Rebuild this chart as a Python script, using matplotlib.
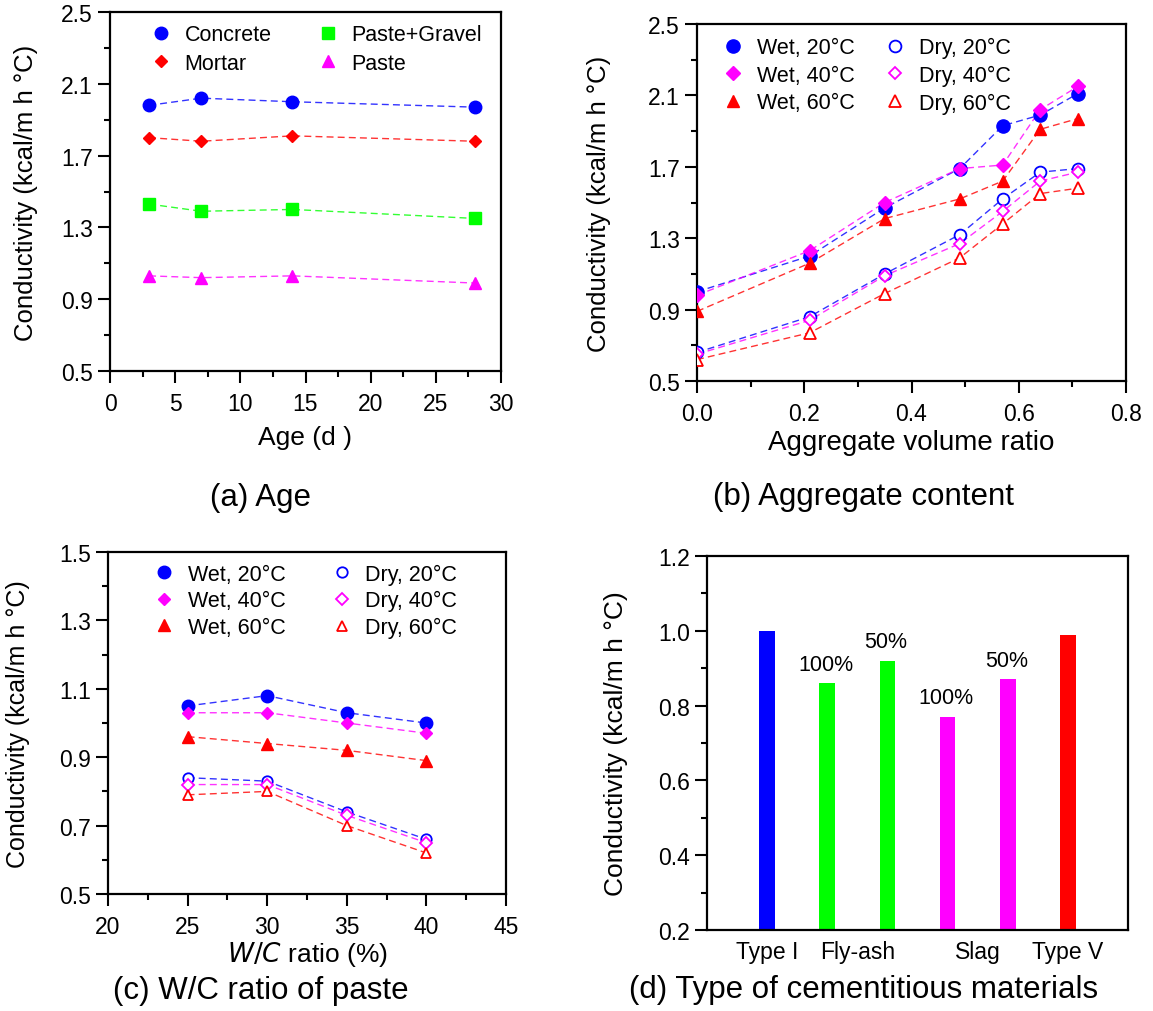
import numpy as np
import matplotlib
matplotlib.use("Agg")
import matplotlib.pyplot as plt
from matplotlib.ticker import FixedLocator, FormatStrFormatter

plt.rcParams['font.family'] = ['Liberation Sans', 'DejaVu Sans']

# ---------------- data ----------------
# (a) Age
age = [3, 7, 14, 28]
concrete = [1.98, 2.02, 2.00, 1.97]
mortar = [1.80, 1.78, 1.81, 1.78]
paste_gravel = [1.43, 1.39, 1.40, 1.35]
paste = [1.03, 1.02, 1.03, 0.99]

# (b) Aggregate content
agg_ratio = [0.0, 0.21, 0.35, 0.49, 0.57, 0.64, 0.71]
wet20_b = [1.00, 1.20, 1.47, 1.69, 1.93, 1.99, 2.11]
wet40_b = [0.98, 1.23, 1.50, 1.69, 1.71, 2.02, 2.15]
wet60_b = [0.89, 1.16, 1.41, 1.52, 1.62, 1.91, 1.97]
dry20_b = [0.66, 0.86, 1.10, 1.32, 1.52, 1.67, 1.69]
dry40_b = [0.65, 0.84, 1.09, 1.27, 1.45, 1.62, 1.67]
dry60_b = [0.62, 0.77, 0.99, 1.19, 1.38, 1.55, 1.58]

# (c) W/C ratio
wc_ratio = [25, 30, 35, 40]
wet20_c = [1.05, 1.08, 1.03, 1.00]
wet40_c = [1.03, 1.03, 1.00, 0.97]
wet60_c = [0.96, 0.94, 0.92, 0.89]
dry20_c = [0.84, 0.83, 0.74, 0.66]
dry40_c = [0.82, 0.82, 0.73, 0.65]
dry60_c = [0.79, 0.80, 0.70, 0.62]

# (d) Type of cementitious materials
materials = ["Type I", "Fly-ash 100%", "Fly-ash 50%", "Slag 100%", "Slag 50%", "Type V"]
values_d = [1.00, 0.86, 0.92, 0.77, 0.87, 0.99]
bar_notes = ["", "100%", "50%", "100%", "50%", ""]
group_labels = ["Type I", "Fly-ash", "Slag", "Type V"]
group_members = [[0], [1, 2], [3, 4], [5]]

# tick values
ticks_a_x = [0, 5, 10, 15, 20, 25, 30]
ticks_a_y = [0.5, 0.9, 1.3, 1.7, 2.1, 2.5]
ticks_b_x = [0.0, 0.2, 0.4, 0.6, 0.8]
ticks_b_y = [0.5, 0.9, 1.3, 1.7, 2.1, 2.5]
ticks_c_x = [20, 25, 30, 35, 40, 45]
ticks_c_y = [0.5, 0.7, 0.9, 1.1, 1.3, 1.5]
ticks_d_y = [0.2, 0.4, 0.6, 0.8, 1.0, 1.2]

BLUE, RED, GREEN, MAG = "#0000ff", "#ff0000", "#00ff00", "#ff00ff"
bar_colors = [BLUE, GREEN, GREEN, MAG, MAG, RED]

W, H = 1153, 1012
fig = plt.figure(figsize=(W / 100, H / 100), dpi=100)


def box(l, t, r, b):
    return [l / W, 1 - b / H, (r - l) / W, (b - t) / H]


TICK_FS = 16.5
LEG_FS = 15.5


def midpoints(t):
    return [(t[i] + t[i + 1]) / 2 for i in range(len(t) - 1)]


def set_ticks(ax, xt=None, yt=None, xfmt=None, yfmt='%.1f'):
    if xt is not None:
        ax.xaxis.set_major_locator(FixedLocator(xt))
        ax.xaxis.set_minor_locator(FixedLocator(midpoints(xt)))
        if xfmt:
            ax.xaxis.set_major_formatter(FormatStrFormatter(xfmt))
    if yt is not None:
        ax.yaxis.set_major_locator(FixedLocator(yt))
        ax.yaxis.set_minor_locator(FixedLocator(midpoints(yt)))
        ax.yaxis.set_major_formatter(FormatStrFormatter(yfmt))


def style_axes(ax):
    for s in ax.spines.values():
        s.set_linewidth(1.6)
    ax.tick_params(which='both', direction='out', top=False, right=False,
                   width=1.5, labelsize=TICK_FS)
    ax.tick_params(which='major', length=8.5, pad=6.5)
    ax.tick_params(axis='y', which='major', pad=4)
    ax.tick_params(which='minor', length=4.2)


def series(ax, x, y, color, marker, ms, label, filled=True, lw_edge=1.3):
    ax.plot(x, y, ls=(0, (5, 3)), lw=1.0, color=color, alpha=0.8, zorder=2)
    if filled:
        ax.plot(x, y, ls='none', marker=marker, ms=ms, color=color,
                markeredgecolor=color, label=label, zorder=3)
    else:
        ax.plot(x, y, ls='none', marker=marker, ms=ms, markerfacecolor='white',
                markeredgecolor=color, markeredgewidth=lw_edge, label=label, zorder=3)


YLABEL = "Conductivity (kcal/m h °C)"

# ---------------- (a) ----------------
axa = fig.add_axes(box(110, 13, 501, 372))
style_axes(axa)
series(axa, age, concrete, BLUE, 'o', 9, "Concrete")
series(axa, age, mortar, RED, 'D', 6.5, "Mortar")
series(axa, age, paste_gravel, GREEN, 's', 8.5, "Paste+Gravel")
series(axa, age, paste, MAG, '^', 8, "Paste")
axa.set_xlim(0, 30)
axa.set_ylim(0.5, 2.5)
set_ticks(axa, ticks_a_x, ticks_a_y)
axa.set_xlabel("Age (d )", fontsize=19, labelpad=7)
axa.set_ylabel(YLABEL, fontsize=18.5)
axa.yaxis.set_label_coords(-0.185, 0.5)
axa.legend(loc='upper left', bbox_to_anchor=(0.053, 1.02), ncol=2, frameon=False,
           fontsize=LEG_FS, handlelength=1.0, handletextpad=0.6,
           columnspacing=2.1, labelspacing=0.36, borderpad=0.4)

# ---------------- (b) ----------------
axb = fig.add_axes(box(697, 25, 1126, 382))
style_axes(axb)
series(axb, agg_ratio, wet20_b, BLUE, 'o', 9.5, "Wet, 20°C")
series(axb, agg_ratio, wet40_b, MAG, 'D', 7, "Wet, 40°C")
series(axb, agg_ratio, wet60_b, RED, '^', 8.5, "Wet, 60°C")
series(axb, agg_ratio, dry20_b, BLUE, 'o', 8.5, "Dry, 20°C", filled=False)
series(axb, agg_ratio, dry40_b, MAG, 'D', 6.5, "Dry, 40°C", filled=False)
series(axb, agg_ratio, dry60_b, RED, '^', 8, "Dry, 60°C", filled=False)
axb.set_xlim(0, 0.8)
axb.set_ylim(0.5, 2.5)
set_ticks(axb, ticks_b_x, ticks_b_y, xfmt='%.1f')
axb.set_xlabel("Aggregate volume ratio", fontsize=20, labelpad=3)
axb.set_ylabel(YLABEL, fontsize=18.5)
axb.yaxis.set_label_coords(-0.2, 0.5)
axb.legend(loc='upper left', bbox_to_anchor=(0.014, 1.017), ncol=2, frameon=False,
           fontsize=LEG_FS, handlelength=1.0, handletextpad=0.6,
           columnspacing=1.4, labelspacing=0.3, borderpad=0.4)

# ---------------- (c) ----------------
axc = fig.add_axes(box(108, 553, 506, 895))
style_axes(axc)
series(axc, wc_ratio, wet20_c, BLUE, 'o', 9, "Wet, 20°C")
series(axc, wc_ratio, wet40_c, MAG, 'D', 6.5, "Wet, 40°C")
series(axc, wc_ratio, wet60_c, RED, '^', 8.5, "Wet, 60°C")
series(axc, wc_ratio, dry20_c, BLUE, 'o', 7.5, "Dry, 20°C", filled=False)
series(axc, wc_ratio, dry40_c, MAG, 'D', 6, "Dry, 40°C", filled=False)
series(axc, wc_ratio, dry60_c, RED, '^', 7.5, "Dry, 60°C", filled=False)
axc.set_xlim(20, 45)
axc.set_ylim(0.5, 1.5)
set_ticks(axc, ticks_c_x, ticks_c_y)
axc.set_xlabel(r"$\mathit{W/C}$ ratio (%)", fontsize=19, labelpad=1)
axc.set_ylabel(YLABEL, fontsize=18)
axc.yaxis.set_label_coords(-0.195, 0.5)
axc.legend(loc='upper left', bbox_to_anchor=(0.066, 1.023), ncol=2, frameon=False,
           fontsize=LEG_FS, handlelength=1.0, handletextpad=0.6,
           columnspacing=2.1, labelspacing=0.26, borderpad=0.4)

# ---------------- (d) ----------------
axd = fig.add_axes(box(707, 557, 1128, 931))
for s in axd.spines.values():
    s.set_linewidth(1.6)
pos = np.arange(1, len(values_d) + 1)
axd.bar(pos, values_d, width=0.26, color=bar_colors, zorder=2)
for p, v, note in zip(pos, values_d, bar_notes):
    if note:
        axd.annotate(note, (p, v), xytext=(-1, 6), textcoords='offset points',
                     ha='center', va='bottom', fontsize=15.5)
axd.set_xlim(0, 7)
axd.set_ylim(0.2, 1.2)
axd.set_xticks([np.mean(pos[m]) for m in group_members])
axd.set_xticklabels(group_labels)
set_ticks(axd, None, ticks_d_y)
axd.tick_params(axis='y', which='both', direction='out', right=False, width=1.5,
                labelsize=TICK_FS)
axd.tick_params(axis='y', which='major', length=8.5, pad=4)
axd.tick_params(axis='y', which='minor', length=4.2)
axd.tick_params(axis='x', which='both', length=0, pad=7, labelsize=16.5)
axd.set_ylabel(YLABEL, fontsize=19)
axd.yaxis.set_label_coords(-0.187, 0.5)

# ---------------- panel captions ----------------
cap_fs = 22.5
fig.text(261 / W, 1 - 498 / H, "(a) Age", ha='center', va='center', fontsize=cap_fs)
fig.text(864 / W, 1 - 497 / H, "(b) Aggregate content", ha='center', va='center', fontsize=cap_fs)
fig.text(261 / W, 1 - 991 / H, "(c) W/C ratio of paste", ha='center', va='center', fontsize=cap_fs)
fig.text(864 / W, 1 - 990 / H, "(d) Type of cementitious materials", ha='center', va='center', fontsize=cap_fs)

fig.savefig("out.png", dpi=100)
